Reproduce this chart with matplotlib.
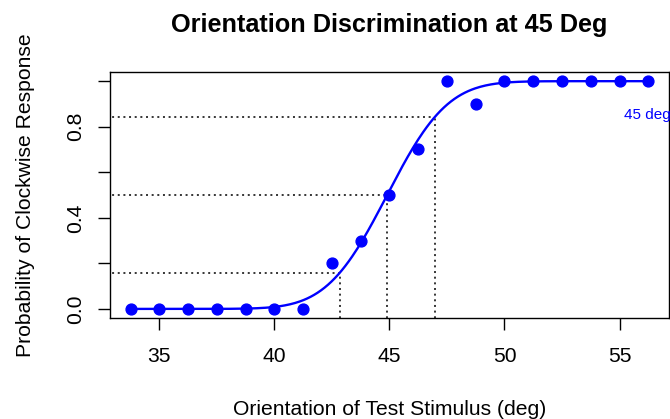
import math
import numpy as np
import matplotlib
matplotlib.use('Agg')
import matplotlib.pyplot as plt

plt.rcParams['font.family'] = ['Liberation Sans', 'DejaVu Sans']

# observed proportions of clockwise responses
orient = [33.75, 35, 36.25, 37.5, 38.75, 40, 41.25, 42.5, 43.75, 45,
          46.25, 47.5, 48.75, 50, 51.25, 52.5, 53.75, 55, 56.25]
p_cw = [0, 0, 0, 0, 0, 0, 0, 0.2, 0.3, 0.5,
        0.7, 1.0, 0.9, 1, 1, 1, 1, 1, 1]

# fitted cumulative gaussian
mu = 44.9
sigma = 2.06
thresh_levels = [0.1587, 0.5, 0.8413]

xticks = [35, 40, 45, 50, 55]
yticks = [0, 0.2, 0.4, 0.6, 0.8, 1.0]
ylabels = ['0.0', '', '0.4', '', '0.8', '']


def cumnorm(x):
    return 0.5 * (1 + math.erf((x - mu) / (sigma * math.sqrt(2))))


def invnorm(p):
    # bisection, good enough here
    lo, hi = mu - 10 * sigma, mu + 10 * sigma
    for i in range(80):
        mid = 0.5 * (lo + hi)
        if cumnorm(mid) < p:
            lo = mid
        else:
            hi = mid
    return 0.5 * (lo + hi)


fig = plt.figure(figsize=(6.7, 4.19), dpi=100)
fig.set_facecolor('white')
ax = fig.add_axes([0.164, 0.241, 0.8345, 0.587])

span = orient[-1] - orient[0]
ax.set_xlim(orient[0] - 0.04 * span, orient[-1] + 0.04 * span)
ax.set_ylim(-0.04, 1.04)

xs = np.linspace(orient[0], orient[-1], 300)
ys = [cumnorm(v) for v in xs]
ax.plot(xs, ys, color='blue', lw=1.7, zorder=3)
ax.plot(orient, p_cw, 'o', color='blue', markersize=7.8, zorder=4)

dots = (0, (1.3, 2.4))
for lev in thresh_levels:
    xt = invnorm(lev)
    ax.plot([orient[0] - 5, xt], [lev, lev], color='black', lw=1.1, linestyle=dots, zorder=2)
    ax.plot([xt, xt], [-0.5, lev], color='black', lw=1.1, linestyle=dots, zorder=2)

ax.text(55.2, 0.85, '45 deg', color='blue', fontsize=11, ha='left', va='center', clip_on=False)

ax.set_xticks(xticks)
ax.set_xticklabels([str(t) for t in xticks])
ax.set_yticks(yticks)
ax.set_yticklabels(ylabels, rotation=90, va='center')
ax.tick_params(axis='both', length=8.5, width=1, labelsize=15.2, color='black')
ax.tick_params(axis='x', pad=12.5)
ax.tick_params(axis='y', pad=9)
for s in ax.spines.values():
    s.set_linewidth(1)
    s.set_color('black')

ax.set_xlabel('Orientation of Test Stimulus (deg)', fontsize=15.2, labelpad=24)
ax.set_ylabel('Probability of Clockwise Response', fontsize=15.2, labelpad=23)
ax.set_title('Orientation Discrimination at 45 Deg', fontsize=18.2, fontweight='bold', pad=29)

fig.savefig('out.png', dpi=100)
